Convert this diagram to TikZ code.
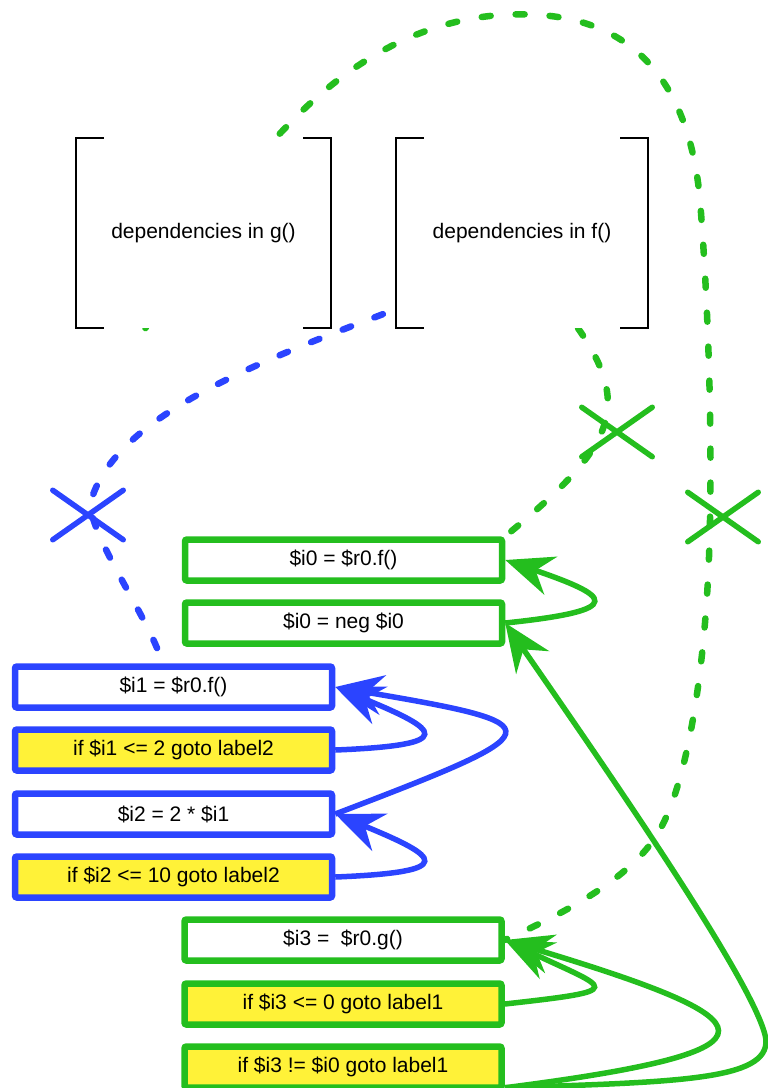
\documentclass[tikz,border=0pt]{standalone}
\usepackage{fontspec}
\setmainfont{Liberation Sans}
\usetikzlibrary{arrows.meta,shapes.misc,backgrounds}
\definecolor{cgreen}{RGB}{36,190,30}
\definecolor{cblue}{RGB}{43,68,255}
\definecolor{cyellow}{RGB}{255,242,56}
\begin{document}
\begin{tikzpicture}[x=1pt,y=-1pt,
 stmt/.style={draw, line width=6.5pt, rounded corners=2pt, minimum width=317pt, minimum height=41pt, inner sep=0pt, font=\fontsize{21}{25}\selectfont, fill=white},
 gstmt/.style={stmt, draw=cgreen},
 bstmt/.style={stmt, draw=cblue},
 cond/.style={fill=cyellow},
 depbox/.style={fill=white, minimum width=#1, minimum height=190pt, inner sep=0pt, font=\fontsize{21}{25}\selectfont},
 bracket/.style={line width=2pt, black},
 dep/.style={line width=6.5pt, dash pattern=on 9pt off 25pt, line cap=round},
 flow/.style={line width=5.5pt, -{Stealth[length=48pt,width=40pt,inset=16pt]}},
 xmark/.style={cross out, draw, line width=5.5pt, line cap=round, minimum width=65pt, minimum height=44pt, inner sep=0pt},
]
\useasboundingbox (0,0) rectangle (768,1088);
% bracket boxes
\node[depbox=255pt] (g) at (203.5,233) {dependencies in g()};
\node[depbox=252pt] (f) at (522,233) {dependencies in f()};
\draw[bracket] ([xshift=28pt]g.north west) -- (g.north west) -- (g.south west) -- ([xshift=28pt]g.south west);
\draw[bracket] ([xshift=-28pt]g.north east) -- (g.north east) -- (g.south east) -- ([xshift=-28pt]g.south east);
\draw[bracket] ([xshift=28pt]f.north west) -- (f.north west) -- (f.south west) -- ([xshift=28pt]f.south west);
\draw[bracket] ([xshift=-28pt]f.north east) -- (f.north east) -- (f.south east) -- ([xshift=-28pt]f.south east);
% statements
\node[gstmt] (a1) at (343.5,560) {\$i0 = \$r0.f()};
\node[gstmt] (a2) at (343.5,623) {\$i0 = neg \$i0};
\node[bstmt] (b1) at (173.5,687) {\$i1 = \$r0.f()};
\node[bstmt,cond] (b2) at (173.5,750) {if \$i1 <= 2 goto label2};
\node[bstmt] (b3) at (173.5,814) {\$i2 = 2 * \$i1};
\node[bstmt,cond] (b4) at (173.5,877) {if \$i2 <= 10 goto label2};
\node[gstmt] (c1) at (343,940) {\$i3 = \ \$r0.g()};
\node[gstmt,cond] (c2) at (343,1004) {if \$i3 <= 0 goto label1};
\node[gstmt,cond] (c3) at (343,1067) {if \$i3 != \$i0 goto label1};
% dependency lines
\begin{scope}[on background layer]
\draw[dep,cgreen] ([xshift=-58pt]g.south) .. controls (190,220) and (255,160) .. (290,123)
  .. controls (380,30) and (470,10) .. (540,15)
  .. controls (640,22) and (690,90) .. (700,200)
  .. controls (708,300) and (712,420) .. (710,520)
  .. controls (708,650) and (690,780) .. (658,833)
  .. controls (630,880) and (560,915) .. (c1.east);
\draw[dep,cblue] ([xshift=-13pt,yshift=14pt]f.south west) .. controls (250,365) and (110,420) .. (90,505)
  .. controls (95,545) and (150,620) .. ([xshift=-11pt]b1.north);
\draw[dep,cgreen] ([xshift=56pt]f.south) .. controls (635,410) and (610,450) .. (a1.north east);
\end{scope}
% crosses
\node[xmark, draw=cblue] (xb) at (88,515) {};
\node[xmark, draw=cgreen] (xf) at (617,432) {};
\node[xmark, draw=cgreen] (xg) at (723,517) {};
% control flow
\draw[flow,cblue] (b2.east) .. controls (460,745) and (440,730) .. (b1.east);
\draw[flow,cblue] (b3.east) .. controls (555,730) and (560,725) .. (b1.east);
\draw[flow,cblue] (b4.east) .. controls (460,872) and (440,857) .. (b3.east);
\draw[flow,cgreen] (a2.east) .. controls (630,610) and (610,596) .. (a1.east);
\draw[flow,cgreen] (c2.east) .. controls (630,990) and (610,990) .. (c1.east);
\draw[flow,cgreen] ([yshift=3pt]c3.south east) .. controls (800,1050) and (770,1020) .. (c1.east);
\draw[flow,cgreen] ([yshift=3pt]c3.south east) .. controls (680,1082) and (768,1080) .. (766,1040)
  .. controls (760,990) and (600,760) .. (a2.east);
\end{tikzpicture}
\end{document}
